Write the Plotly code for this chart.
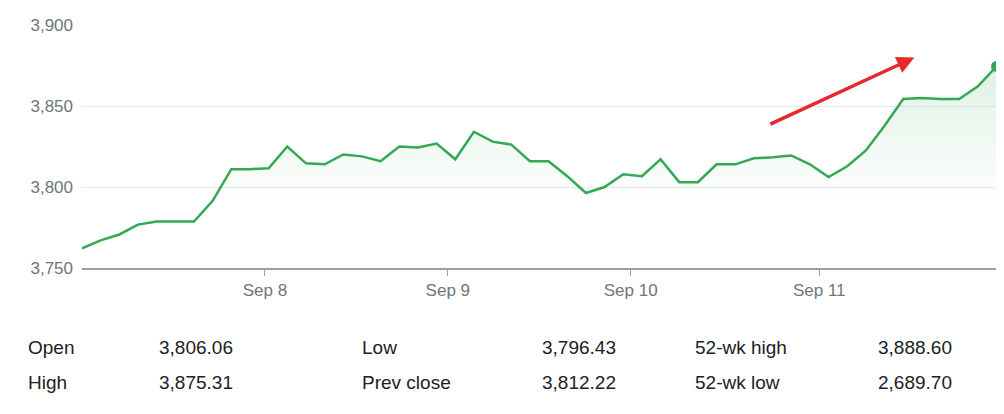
import plotly.graph_objects as go

values = [3762.2,3767.1,3770.7,3776.8,3778.7,3778.7,3778.7,3791.5,3811.0,3811.0,
          3811.6,3825.0,3814.6,3814.0,3820.1,3818.9,3815.9,3825.0,3824.4,3826.8,
          3817.1,3834.1,3828.0,3826.2,3815.9,3815.9,3806.7,3796.3,3800.0,3807.9,
          3806.7,3817.1,3803.0,3803.0,3814.0,3814.0,3817.7,3818.3,3819.5,3814.0,
          3806.1,3812.8,3822.6,3837.8,3854.3,3854.9,3854.3,3854.3,3862.2,3874.4]
x = list(range(len(values)))
tick_vals = [9.8, 19.6, 29.4, 39.5]
tick_text = ["Sep 8", "Sep 9", "Sep 10", "Sep 11"]
y_ticks = [3750, 3800, 3850, 3900]
stats_labels = [["Open", "High"], ["Low", "Prev close"], ["52-wk high", "52-wk low"]]
stats_values = [["3,806.06", "3,875.31"], ["3,796.43", "3,812.22"], ["3,888.60", "2,689.70"]]

L, R, T, B = 74, 8, 14, 154
W, H = 1004, 414
pw, ph = W - L - R, H - T - B

fig = go.Figure()
fig.add_trace(go.Scatter(x=x, y=values, mode="lines", line=dict(color="#34a853", width=2.5),
    fill="tozeroy",
    fillgradient=dict(type="vertical", colorscale=[[0, "rgba(52,168,83,0)"], [1, "rgba(52,168,83,0.16)"]],
                      start=3790, stop=3875),
    hoverinfo="skip"))
fig.add_trace(go.Scatter(x=[x[-1]], y=[values[-1]], mode="markers", cliponaxis=False,
    marker=dict(color="#34a853", size=11), hoverinfo="skip"))
fig.add_annotation(x=44.6, y=3879.9, ax=36.8, ay=3838.4, xref="x", yref="y", axref="x", ayref="y",
    showarrow=True, arrowhead=2, arrowsize=1, arrowwidth=3.5, arrowcolor="#e8282b", text="")

px_cols = [26, 157, 360, 540, 693, 876]
for i in range(3):
    for r, yy in enumerate([348, 384]):
        py = (H - B - (yy - 8)) / ph
        for j, txt in enumerate([stats_labels[i][r], stats_values[i][r]]):
            fig.add_annotation(xref="paper", yref="paper", x=(px_cols[2*i+j] - 8 - L) / pw, y=py,
                text=txt, showarrow=False, xanchor="left", yanchor="middle",
                font=dict(size=19, color="#202124", family="Arial"))

fig.update_layout(width=W, height=H, margin=dict(l=L, r=R, t=T, b=B),
    plot_bgcolor="white", paper_bgcolor="white", showlegend=False,
    font=dict(family="Arial", color="#70757a", size=16))
fig.update_xaxes(range=[0, 49.4], tickvals=tick_vals, ticktext=tick_text, showgrid=False,
    ticks="outside", ticklen=6, tickcolor="#9aa0a6", showline=True, linecolor="#9aa0a6", linewidth=1.5,
    tickfont=dict(size=17, color="#70757a"), zeroline=False)
fig.update_yaxes(range=[3750, 3900], tickvals=y_ticks, tickformat=",", showgrid=True,
    gridcolor="#e8eaed", zeroline=False, ticks="", tickfont=dict(size=17, color="#70757a"),
    ticklabelstandoff=8)
fig.write_html("out.html")
